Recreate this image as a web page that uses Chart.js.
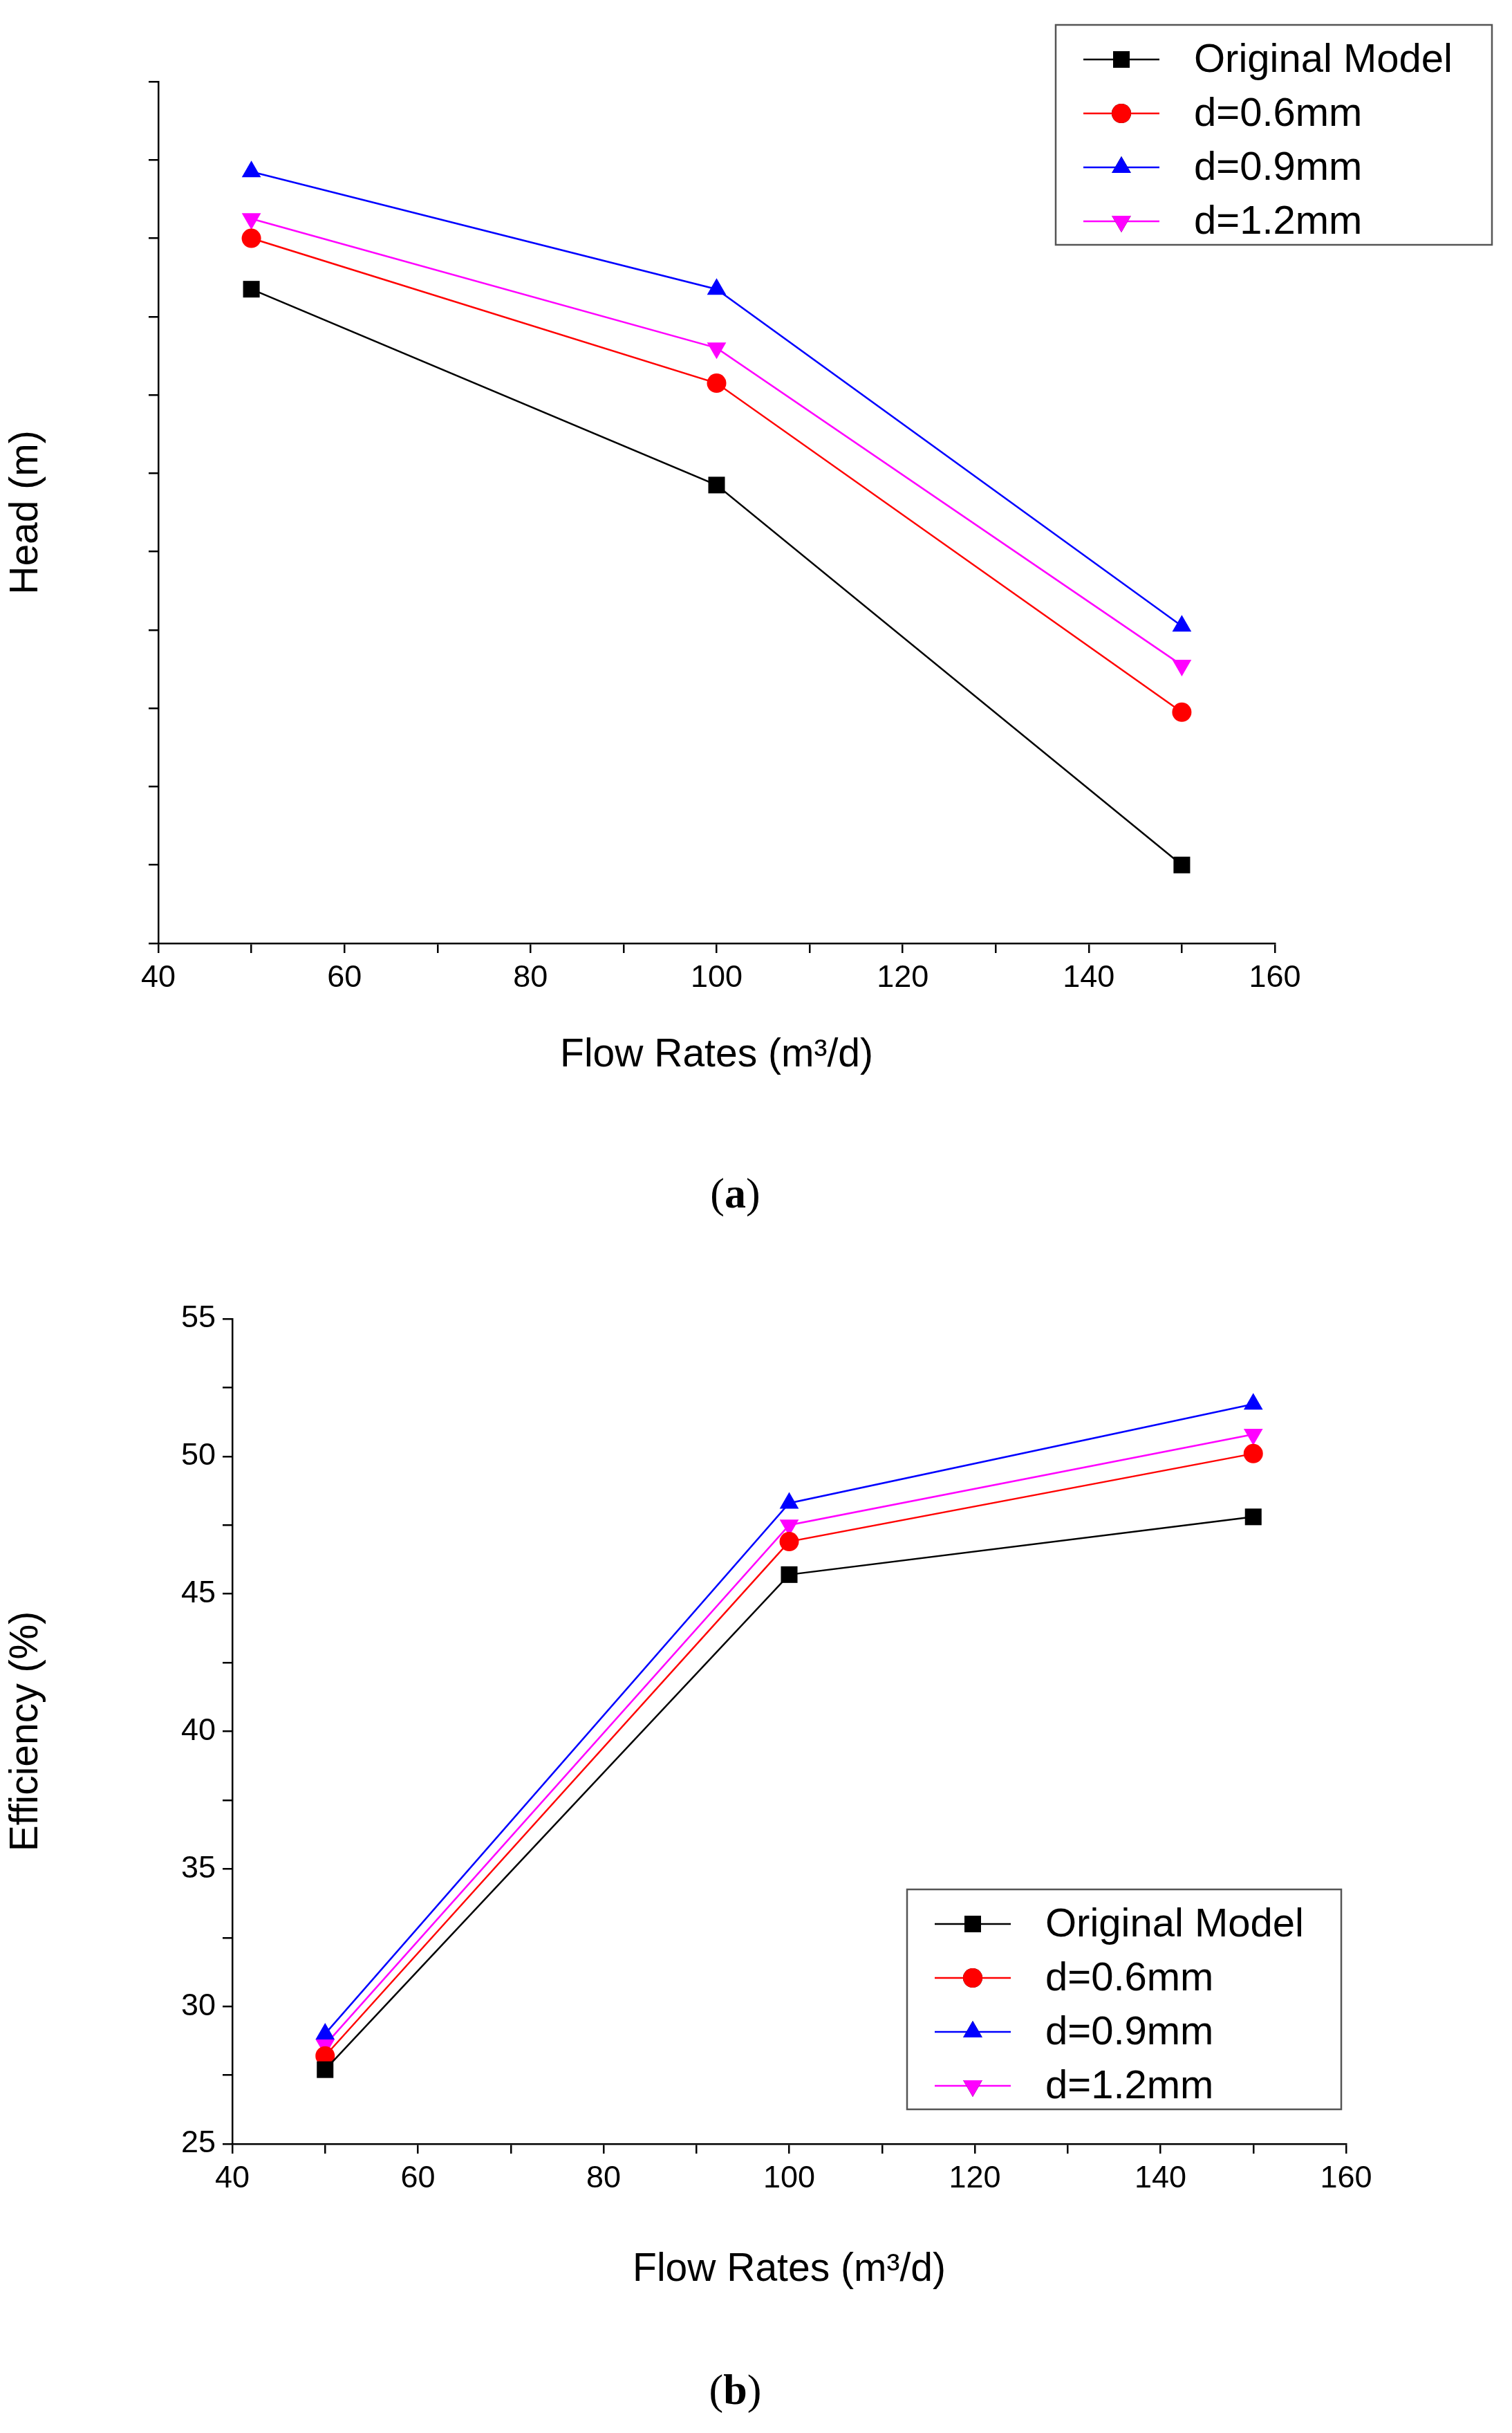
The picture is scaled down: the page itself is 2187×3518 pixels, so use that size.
<!DOCTYPE html>
<html>
<head>
<meta charset="utf-8">
<script src="https://cdn.jsdelivr.net/npm/chart.js@4"></script>
<style>
  body { margin: 0; background: #fff; width: 2187px; height: 3518px; position: relative; overflow: hidden; }
  .wrap { position: absolute; left: 0; width: 2187px; }
  .cap { position: absolute; width: 2187px; text-align: center; left: -30px;
         font-family: "Liberation Serif", serif; font-size: 62px; color: #000; }
</style>
</head>
<body>
<div class="wrap" style="top:0;height:1564px"><canvas id="chartA"></canvas></div>
<div class="cap" style="top:1690px">(<b>a</b>)</div>
<div class="wrap" style="top:1760px;height:1560px"><canvas id="chartB"></canvas></div>
<div class="cap" style="top:3420px">(<b>b</b>)</div>
<script>
/* ── Data ─────────────────────────────────────────── */
const FLOWS = [50, 100, 150];
const SERIES = ['Original Model', 'd=0.6mm', 'd=0.9mm', 'd=1.2mm'];

const headOrig = [6.17, 5.67, 4.70];
const head06   = [6.30, 5.93, 5.09];
const head09   = [6.47, 6.17, 5.31];
const head12   = [6.35, 6.02, 5.21];

const effOrig = [27.7, 45.7, 47.8];
const eff06   = [28.2, 46.9, 50.1];
const eff09   = [29.0, 48.3, 51.9];
const eff12   = [28.6, 47.5, 50.8];

/* ── Styles ───────────────────────────────────────── */
const COLORS = ['#000000', '#ff0000', '#0000ff', '#ff00ff'];
const POINTS = ['rect', 'circle', 'triangle', 'triangle'];
const ROTS   = [0, 0, 0, 180];
const RADII  = [17, 14, 16, 16];
const FONT   = '"Liberation Sans", Arial, sans-serif';

function makeSets(arrs) {
  return arrs.map((a, i) => ({
    label: SERIES[i],
    data: FLOWS.map((x, j) => ({ x: x, y: a[j] })),
    borderColor: COLORS[i], backgroundColor: COLORS[i],
    borderWidth: 2.5, pointStyle: POINTS[i], rotation: ROTS[i],
    pointRadius: RADII[i], pointBorderWidth: 0
  }));
}

/* ── Legend box plugin ────────────────────────────── */
const boxLegend = {
  id: 'boxLegend',
  afterDraw(chart, args, o) {
    const c = chart.ctx;
    c.save();
    c.strokeStyle = '#555'; c.lineWidth = 2.5;
    c.strokeRect(o.x, o.y, o.w, o.h);
    c.font = '58px ' + FONT; c.textBaseline = 'middle'; c.fillStyle = '#000';
    chart.data.datasets.forEach((ds, i) => {
      const cy = o.y + 50 + i * 78;
      c.strokeStyle = ds.borderColor; c.lineWidth = 2.5;
      c.beginPath(); c.moveTo(o.x + 40, cy); c.lineTo(o.x + 150, cy); c.stroke();
      Chart.helpers.drawPoint(c, { pointStyle: ds.pointStyle, rotation: ds.rotation, radius: ds.pointRadius, borderWidth: 0 }, o.x + 95, cy);
      c.fillStyle = ds.borderColor; c.fill();
      c.fillStyle = '#000';
      c.fillText(ds.label, o.x + 200, cy + 2);
    });
    c.restore();
  }
};

function axisCommon() {
  return {
    border: { color: '#000', width: 2.5 },
    grid: { drawOnChartArea: false, drawTicks: true, tickColor: '#000', tickLength: 14, lineWidth: 2.5 },
  };
}

function build(id, sets, cfg) {
  new Chart(document.getElementById(id), {
    type: 'line',
    data: { datasets: sets },
    plugins: [boxLegend],
    options: {
      responsive: true, maintainAspectRatio: false, animation: false,
      layout: { padding: { top: cfg.padTop, right: cfg.padRight, left: 0, bottom: 0 } },
      plugins: { legend: { display: false }, tooltip: { enabled: false }, boxLegend: cfg.legend },
      scales: {
        x: Object.assign(axisCommon(), {
          type: 'linear', min: 40, max: 160,
          ticks: { stepSize: 10, color: '#000', font: { family: FONT, size: 45 }, padding: 10,
                   callback: v => v % 20 === 0 ? v : '' },
          title: { display: true, text: 'Flow Rates (m³/d)', color: '#000', font: { family: FONT, size: 57 }, padding: { top: 30 } },
          afterFit: s => { s.height = cfg.xh; }
        }),
        y: Object.assign(axisCommon(), {
          min: cfg.ymin, max: cfg.ymax,
          ticks: { stepSize: cfg.ystep, color: '#000', font: { family: FONT, size: 45 }, padding: 10,
                   callback: cfg.ylab },
          title: { display: true, text: cfg.ytitle, color: '#000', font: { family: FONT, size: 57 } },
          afterFit: s => { s.width = cfg.yw; }
        })
      }
    }
  });
}

build('chartA', makeSets([headOrig, head06, head09, head12]), {
  padTop: 118, padRight: 343, xh: 200, yw: 229,
  ymin: 4.5, ymax: 6.7, ystep: 0.1, ytitle: 'Head (m)',
  ylab: v => Math.round(v * 10) % 2 === 0 ? v.toFixed(1) : '',
  legend: { x: 1527, y: 36, w: 631, h: 318 }
});

build('chartB', makeSets([effOrig, eff06, eff09, eff12]), {
  padTop: 147, padRight: 240, xh: 220, yw: 336,
  ymin: 25, ymax: 55, ystep: 2.5, ytitle: 'Efficiency (%)',
  ylab: v => v % 5 === 0 ? v : '',
  legend: { x: 1312, y: 972, w: 628, h: 318 }
});
</script>
</body>
</html>
